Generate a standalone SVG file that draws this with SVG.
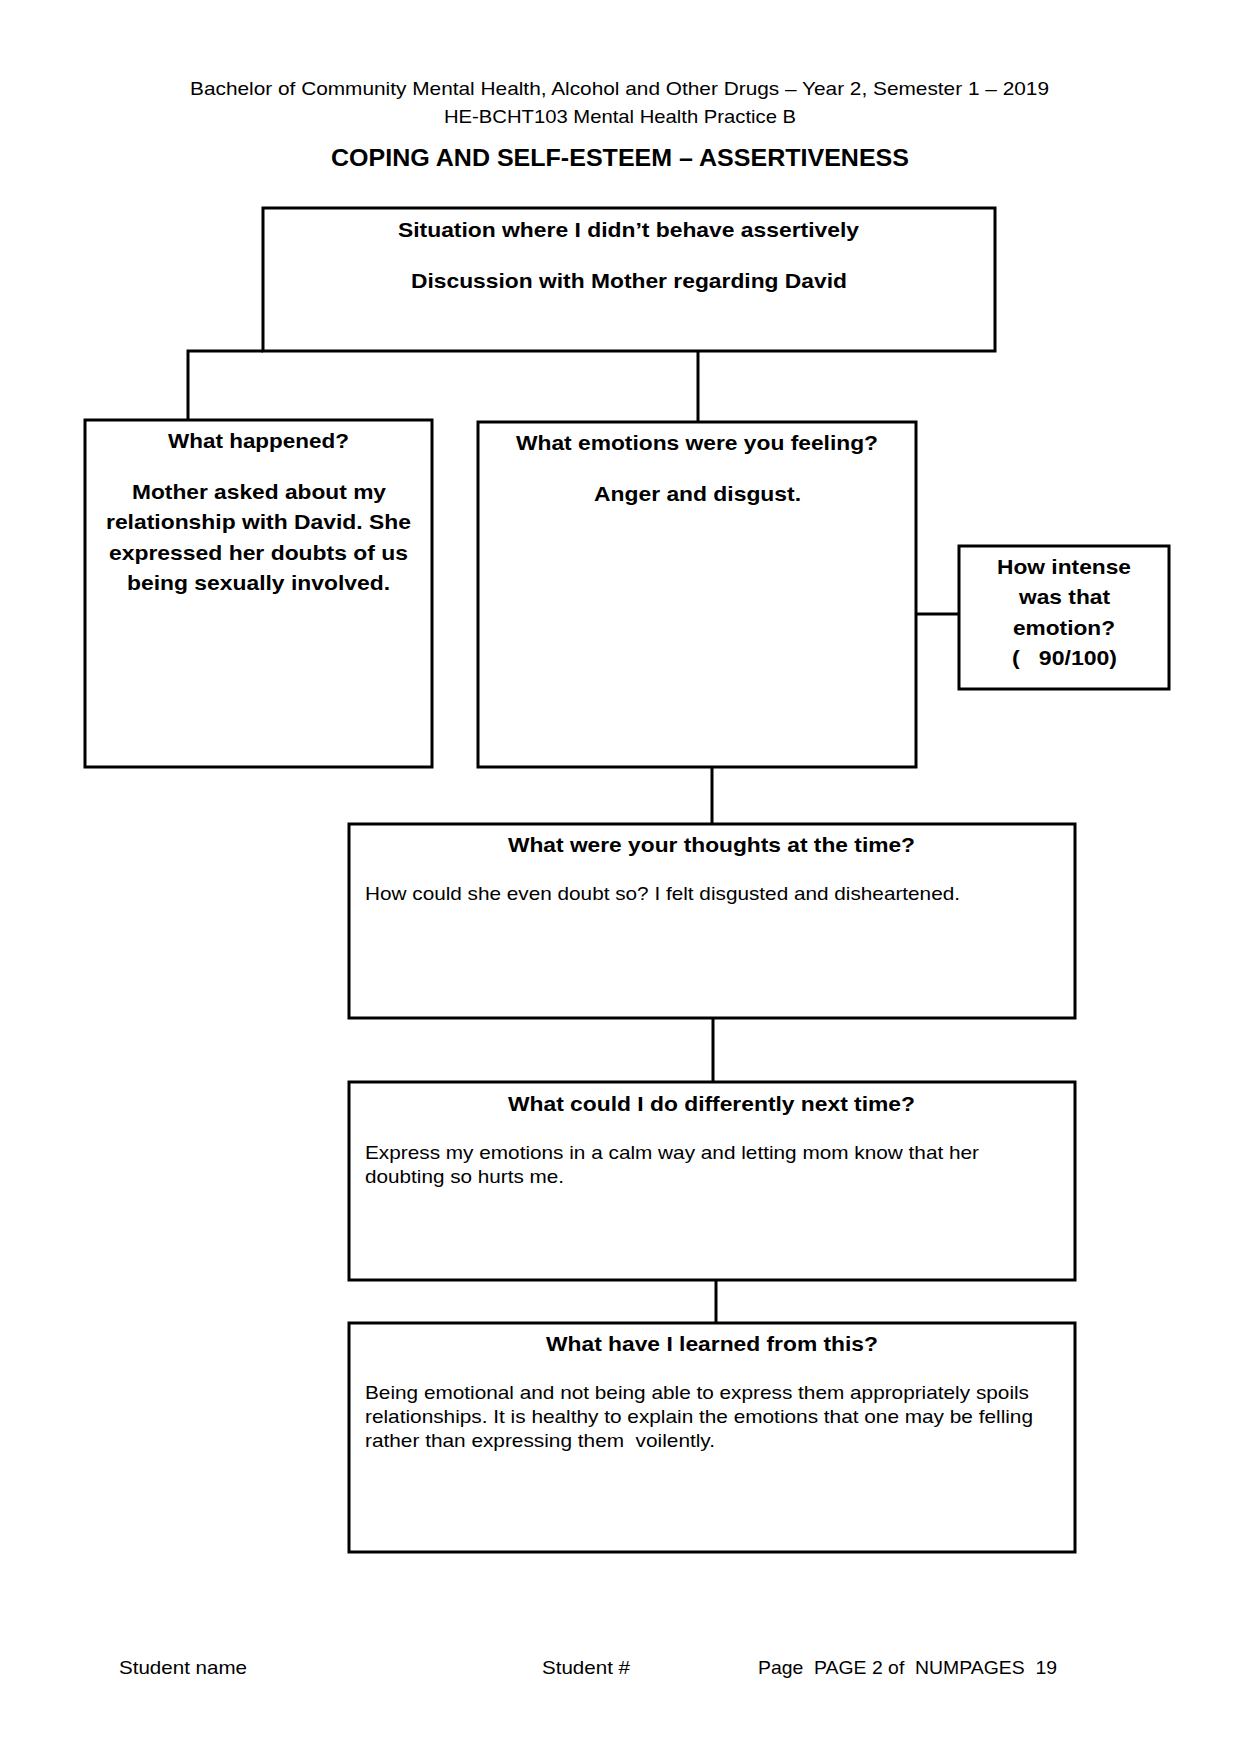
<svg xmlns="http://www.w3.org/2000/svg" width="1241" height="1754" viewBox="0 0 1241 1754">
<style>
.box{fill:#fff;stroke:#000;stroke-width:3}
.con{fill:none;stroke:#000;stroke-width:3}
.hdr{font-family:"Liberation Sans",Arial,sans-serif;font-size:19px;fill:#000}
.b{font-family:"Liberation Sans",Arial,sans-serif;font-weight:bold;fill:#000;font-size:20.5px}
.r{font-family:"Liberation Sans",Arial,sans-serif;fill:#000;font-size:18.5px}
.pre{white-space:pre}
</style>
<rect width="1241" height="1754" fill="#fff"/>
<g id="header">
<text class="hdr" x="190" y="95" textLength="859" lengthAdjust="spacingAndGlyphs">Bachelor of Community Mental Health, Alcohol and Other Drugs – Year 2, Semester 1 – 2019</text>
<text class="hdr" x="444" y="123" textLength="352" lengthAdjust="spacingAndGlyphs">HE-BCHT103 Mental Health Practice B</text>
<text class="b" x="331" y="166" style="font-size:23px" textLength="578" lengthAdjust="spacingAndGlyphs">COPING AND SELF-ESTEEM – ASSERTIVENESS</text>
</g>
<g id="connectors">
<path class="con" d="M188,420 V351 H263"/>
<path class="con" d="M698,351 V422"/>
<path class="con" d="M916,614 H959"/>
<path class="con" d="M712,767 V824"/>
<path class="con" d="M713,1018 V1082"/>
<path class="con" d="M716,1280 V1323"/>
</g>
<g id="situation">
<rect class="box" x="263" y="208" width="732" height="143"/>
<text class="b" x="398" y="237" textLength="461" lengthAdjust="spacingAndGlyphs">Situation where I didn’t behave assertively</text>
<text class="b" x="411" y="288" textLength="436" lengthAdjust="spacingAndGlyphs">Discussion with Mother regarding David</text>
</g>
<g id="what-happened">
<rect class="box" x="85" y="420" width="347" height="347"/>
<text class="b" x="168" y="448" textLength="181" lengthAdjust="spacingAndGlyphs">What happened?</text>
<text class="b" x="132" y="499" textLength="254" lengthAdjust="spacingAndGlyphs">Mother asked about my</text>
<text class="b" x="106" y="529" textLength="305" lengthAdjust="spacingAndGlyphs">relationship with David. She</text>
<text class="b" x="109" y="560" textLength="299" lengthAdjust="spacingAndGlyphs">expressed her doubts of us</text>
<text class="b" x="127" y="590" textLength="263" lengthAdjust="spacingAndGlyphs">being sexually involved.</text>
</g>
<g id="emotions">
<rect class="box" x="478" y="422" width="438" height="345"/>
<text class="b" x="516" y="450" textLength="362" lengthAdjust="spacingAndGlyphs">What emotions were you feeling?</text>
<text class="b" x="594" y="501" textLength="207" lengthAdjust="spacingAndGlyphs">Anger and disgust.</text>
</g>
<g id="intensity">
<rect class="box" x="959" y="546" width="210" height="143"/>
<text class="b" x="997" y="574" textLength="134" lengthAdjust="spacingAndGlyphs">How intense</text>
<text class="b" x="1019" y="604" textLength="91" lengthAdjust="spacingAndGlyphs">was that</text>
<text class="b" x="1013" y="635" textLength="102" lengthAdjust="spacingAndGlyphs">emotion?</text>
<text class="b pre" x="1012" y="665" textLength="105" lengthAdjust="spacingAndGlyphs">(   90/100)</text>
</g>
<g id="thoughts">
<rect class="box" x="349" y="824" width="726" height="194"/>
<text class="b" x="508" y="852" textLength="407" lengthAdjust="spacingAndGlyphs">What were your thoughts at the time?</text>
<text class="r" x="365" y="900" textLength="595" lengthAdjust="spacingAndGlyphs">How could she even doubt so? I felt disgusted and disheartened.</text>
</g>
<g id="differently">
<rect class="box" x="349" y="1082" width="726" height="198"/>
<text class="b" x="508" y="1111" textLength="407" lengthAdjust="spacingAndGlyphs">What could I do differently next time?</text>
<text class="r" x="365" y="1159" textLength="614" lengthAdjust="spacingAndGlyphs">Express my emotions in a calm way and letting mom know that her</text>
<text class="r" x="365" y="1183" textLength="199" lengthAdjust="spacingAndGlyphs">doubting so hurts me.</text>
</g>
<g id="learned">
<rect class="box" x="349" y="1323" width="726" height="229"/>
<text class="b" x="546" y="1351" textLength="332" lengthAdjust="spacingAndGlyphs">What have I learned from this?</text>
<text class="r" x="365" y="1399" textLength="664" lengthAdjust="spacingAndGlyphs">Being emotional and not being able to express them appropriately spoils</text>
<text class="r" x="365" y="1423" textLength="668" lengthAdjust="spacingAndGlyphs">relationships. It is healthy to explain the emotions that one may be felling</text>
<text class="r pre" x="365" y="1447" textLength="350" lengthAdjust="spacingAndGlyphs">rather than expressing them  voilently.</text>
</g>
<g id="footer">
<text class="hdr" x="119" y="1674" textLength="128" lengthAdjust="spacingAndGlyphs">Student name</text>
<text class="hdr" x="542" y="1674" textLength="88" lengthAdjust="spacingAndGlyphs">Student #</text>
<text class="hdr pre" x="758" y="1674" textLength="299" lengthAdjust="spacingAndGlyphs">Page  PAGE 2 of  NUMPAGES  19</text>
</g>
</svg>
